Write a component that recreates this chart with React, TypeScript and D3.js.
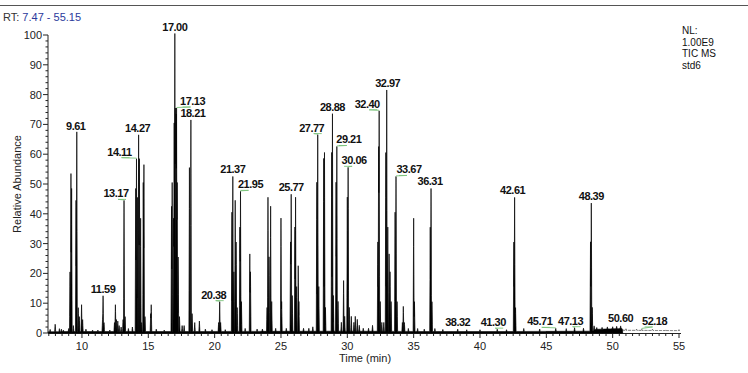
import * as d3 from "d3";

// retention time (min) / relative abundance (%) of every peak
const peakRt = [
  7.6, 7.98, 8.3, 8.45, 8.6, 9.0, 9.1, 9.17, 9.22, 9.35, 9.55, 9.61, 9.72, 9.8, 9.97, 10.05,
  10.3, 10.8, 11.2, 11.55, 11.59, 11.66, 12.1, 12.45, 12.52, 12.6, 12.7, 12.8, 12.95, 13.1,
  13.17, 13.25, 13.5, 13.8, 14.05, 14.11, 14.18, 14.27, 14.33, 14.42, 14.5, 14.62, 14.67,
  14.75, 15.18, 15.22, 15.6, 16.2, 16.75, 16.8, 16.9, 16.95, 17.0, 17.04, 17.1, 17.13, 17.18,
  17.25, 17.35, 17.55, 17.7, 18.1, 18.21, 18.3, 18.5, 18.85, 19.3, 19.8, 20.3, 20.38, 20.45,
  20.8, 21.3, 21.37, 21.45, 21.55, 21.62, 21.7, 21.9, 21.95, 22.02, 22.3, 22.65, 22.7, 23.2,
  23.6, 23.95, 24.02, 24.1, 24.22, 24.3, 24.6, 25.0, 25.05, 25.4, 25.72, 25.77, 25.85, 26.05,
  26.1, 26.18, 26.3, 26.35, 26.7, 27.1, 27.4, 27.7, 27.77, 27.85, 28.22, 28.28, 28.35, 28.82,
  28.88, 28.95, 29.15, 29.21, 29.3, 29.55, 29.72, 29.8, 30.0, 30.06, 30.15, 30.3, 30.5, 30.6,
  30.75, 30.9, 31.2, 31.6, 31.9, 32.3, 32.36, 32.4, 32.48, 32.6, 32.75, 32.9, 32.97, 33.05,
  33.15, 33.22, 33.3, 33.6, 33.67, 33.75, 34.15, 34.22, 34.3, 34.6, 35.0, 35.06, 35.3, 35.8,
  36.25, 36.31, 36.38, 36.6, 37.2, 38.32, 39.0, 40.0, 41.3, 42.0, 42.55, 42.61, 42.68, 43.3,
  44.5, 45.71, 46.5, 47.13, 47.8, 48.33, 48.39, 48.46, 48.6, 48.8, 49.2, 49.6, 50.0, 50.3,
  50.6, 51.0, 51.8, 52.18, 53.0, 54.0, 55.0,
];
const peakHeight = [
  0.8, 2.5, 1.0, 0.8, 0.5, 1, 20, 53, 48, 2, 44, 67, 8, 5, 9, 4,
  0.8, 0.5, 0.5, 4, 12, 3, 0.5, 3, 9, 4, 3.5, 2, 1.5, 4,
  44, 5, 1, 1.5, 48, 58, 45, 66, 58, 38, 3, 50, 56,
  5, 6, 9, 0.8, 0.5, 42, 50, 38, 70, 100, 75, 73, 75, 50,
  25, 5, 2, 2, 55, 71, 6, 3, 3.5, 0.8, 0.6, 3, 10, 3,
  0.6, 40, 52, 20, 44, 30, 8, 35, 47, 10, 1, 26, 20, 0.8,
  0.8, 8, 45, 25, 42, 10, 1, 38, 10, 1, 30, 46, 12, 35,
  45, 15, 22, 10, 1, 1, 1.5, 50, 66, 15, 58, 60, 8, 60,
  73, 12, 50, 62, 10, 3, 17, 5, 45, 55, 8, 5, 3, 5,
  4, 2, 1, 1, 2, 30, 62, 74, 10, 3, 3, 60, 81, 35,
  26, 20, 10, 40, 52, 10, 3, 8.4, 3, 1, 38, 10, 1, 0.8,
  35, 48, 10, 1, 0.7, 0.8, 0.6, 0.6, 0.8, 0.6, 30, 45, 8, 1,
  0.8, 1, 0.9, 1.2, 1, 30, 43, 8, 1.2, 0.6, 0.6, 0.7, 0.7, 0.8,
  0.9, 0.5, 0.4, 0.5, 0.4, 0.3, 0.3,
];

// baseline level along the run
const baseRt = [7.47, 9, 18, 30, 36, 42, 48.5, 48.6, 50.7, 50.8, 55.15];
const baseLevel = [0.4, 0.5, 0.5, 0.6, 0.5, 0.5, 0.6, 1.2, 1.5, 0.9, 0.8];

// annotated peaks
const peakLabels = [
  "9.61", "11.59", "13.17", "14.11", "14.27", "17.00", "17.13", "18.21", "20.38", "21.37",
  "21.95", "25.77", "27.77", "28.88", "29.21", "30.06", "32.40", "32.97", "33.67", "36.31",
  "38.32", "41.30", "42.61", "45.71", "47.13", "48.39", "50.60", "52.18",
];

const yTicks = [0, 10, 20, 30, 40, 50, 60, 70, 80, 90, 100];
const xTicks = [10, 15, 20, 25, 30, 35, 40, 45, 50, 55];
const rtRange = [7.47, 55.15];
const tailStart = 50.75;
const infoLines = ["NL:", "1.00E9", "TIC MS", "std6"];

// label placement offsets (px) relative to the peak apex
const labelShift: Record<string, [number, number]> = {
  "9.61": [-1, 1],
  "13.17": [-8, 0],
  "14.11": [-17, 0],
  "14.27": [-1, 0],
  "17.13": [16, 0],
  "18.21": [2, 0],
  "20.38": [-6, 0],
  "21.95": [10, 0],
  "27.77": [-6, 0],
  "29.21": [12, 0],
  "30.06": [6, 0],
  "32.40": [-12, 0],
  "32.97": [1, 0],
  "33.67": [13, 0],
  "36.31": [-1, 0],
  "41.30": [-4, 0],
  "42.61": [-2, 0],
  "45.71": [-16, 0],
  "47.13": [-4, 0],
  "50.60": [0, -1],
  "52.18": [13, -1],
};

const W = 748;
const H = 373;
const FONT = "'Liberation Sans', Arial, sans-serif";

export default function App() {
  const x = d3.scaleLinear().domain(rtRange).range([48.4, 681]);
  const y = d3.scaleLinear().domain([0, 100]).range([333, 35]);
  const base = d3.scaleLinear().domain(baseRt).range(baseLevel).clamp(true);

  const hw = 0.04;
  const times: number[] = [];
  for (let t = rtRange[0]; t <= rtRange[1]; t += 0.02) times.push(t);
  peakRt.forEach((r) => times.push(r - hw, r, r + hw));
  times.push(tailStart);
  times.sort((a, b) => a - b);

  const trace = times
    .filter((t) => t >= rtRange[0] && t <= rtRange[1])
    .map((t) => {
      let m = 0;
      peakRt.forEach((r, i) => {
        const d = Math.abs(t - r);
        if (d < hw) m = Math.max(m, peakHeight[i] * (1 - d / hw));
      });
      return [t, base(t) + m] as [number, number];
    });

  const area = d3
    .area<[number, number]>()
    .x((d) => x(d[0]))
    .y0(y(0))
    .y1((d) => y(d[1]));
  const line = d3
    .line<[number, number]>()
    .x((d) => x(d[0]))
    .y((d) => y(d[1]));

  const head = trace.filter((d) => d[0] <= tailStart);
  const tail = trace.filter((d) => d[0] >= tailStart);

  const yMinor = d3.range(0, 101, 2).filter((v) => v % 10 !== 0);
  const xMinor = d3.range(7.5, 55.01, 0.5).filter((v) => v % 5 !== 0);

  return (
    <svg
      width={W}
      height={H}
      style={{ position: "absolute", left: 0, top: 0, background: "#fff" }}
      fontFamily={FONT}
    >
      <line x1={0} x2={W} y1={5.5} y2={5.5} stroke="#555" strokeWidth={1} />
      <text x={3} y={21} fontSize={11} fill="#333">
        RT: <tspan fill="#2b3a9c">7.47 - 55.15</tspan>
      </text>

      {infoLines.map((s, i) => (
        <text key={s} x={682} y={34 + i * 11.7} fontSize={10} fill="#111">
          {s}
        </text>
      ))}

      {/* y axis */}
      <line x1={48} x2={48} y1={y(100)} y2={y(0)} stroke="#222" />
      {yTicks.map((v) => (
        <g key={v}>
          <line x1={43} x2={48} y1={y(v)} y2={y(v)} stroke="#222" />
          <text x={42} y={y(v) + 4} fontSize={11} textAnchor="end" fill="#222">
            {v}
          </text>
        </g>
      ))}
      {yMinor.map((v) => (
        <line key={v} x1={45.5} x2={48} y1={y(v)} y2={y(v)} stroke="#222" />
      ))}
      <text
        transform={`translate(21,184) rotate(-90)`}
        fontSize={11}
        textAnchor="middle"
        fill="#222"
      >
        Relative Abundance
      </text>

      {/* x axis */}
      <line x1={48} x2={681} y1={333.5} y2={333.5} stroke="#222" />
      {xTicks.map((v) => (
        <g key={v}>
          <line x1={x(v)} x2={x(v)} y1={333} y2={338} stroke="#222" />
          <text x={x(v)} y={350} fontSize={11} textAnchor="middle" fill="#222">
            {v}
          </text>
        </g>
      ))}
      {xMinor.map((v) => (
        <line key={v} x1={x(v)} x2={x(v)} y1={333} y2={336} stroke="#222" />
      ))}
      <text x={365} y={362} fontSize={11} textAnchor="middle" fill="#222">
        Time (min)
      </text>

      {/* chromatogram */}
      <path d={area(head) || ""} fill="#000" stroke="#000" strokeWidth={0.7} />
      <path
        d={line(tail) || ""}
        fill="none"
        stroke="#555"
        strokeWidth={1}
        strokeDasharray="3,1"
      />

      {peakLabels.map((lab) => {
        const rt = +lab;
        const i = peakRt.findIndex((r) => Math.abs(r - rt) < 0.001);
        const px = x(rt);
        const py = y(peakHeight[i] + base(rt));
        const [dx, dy] = labelShift[lab] || [0, 0];
        const tx = px + dx;
        const ty = py - 3 + dy;
        return (
          <g key={lab}>
            {Math.abs(dx) >= 4 && (
              <polyline
                points={`${px},${py - 0.5} ${tx - Math.sign(dx) * 2},${ty + 2} ${tx - Math.sign(dx) * 10},${ty + 2}`}
                fill="none"
                stroke="#7cc47c"
                strokeWidth={0.9}
              />
            )}
            <text
              x={tx}
              y={ty}
              fontSize={11}
              fontWeight="bold"
              letterSpacing={-0.5}
              textAnchor="middle"
              fill="#111"
            >
              {lab}
            </text>
          </g>
        );
      })}
    </svg>
  );
}
